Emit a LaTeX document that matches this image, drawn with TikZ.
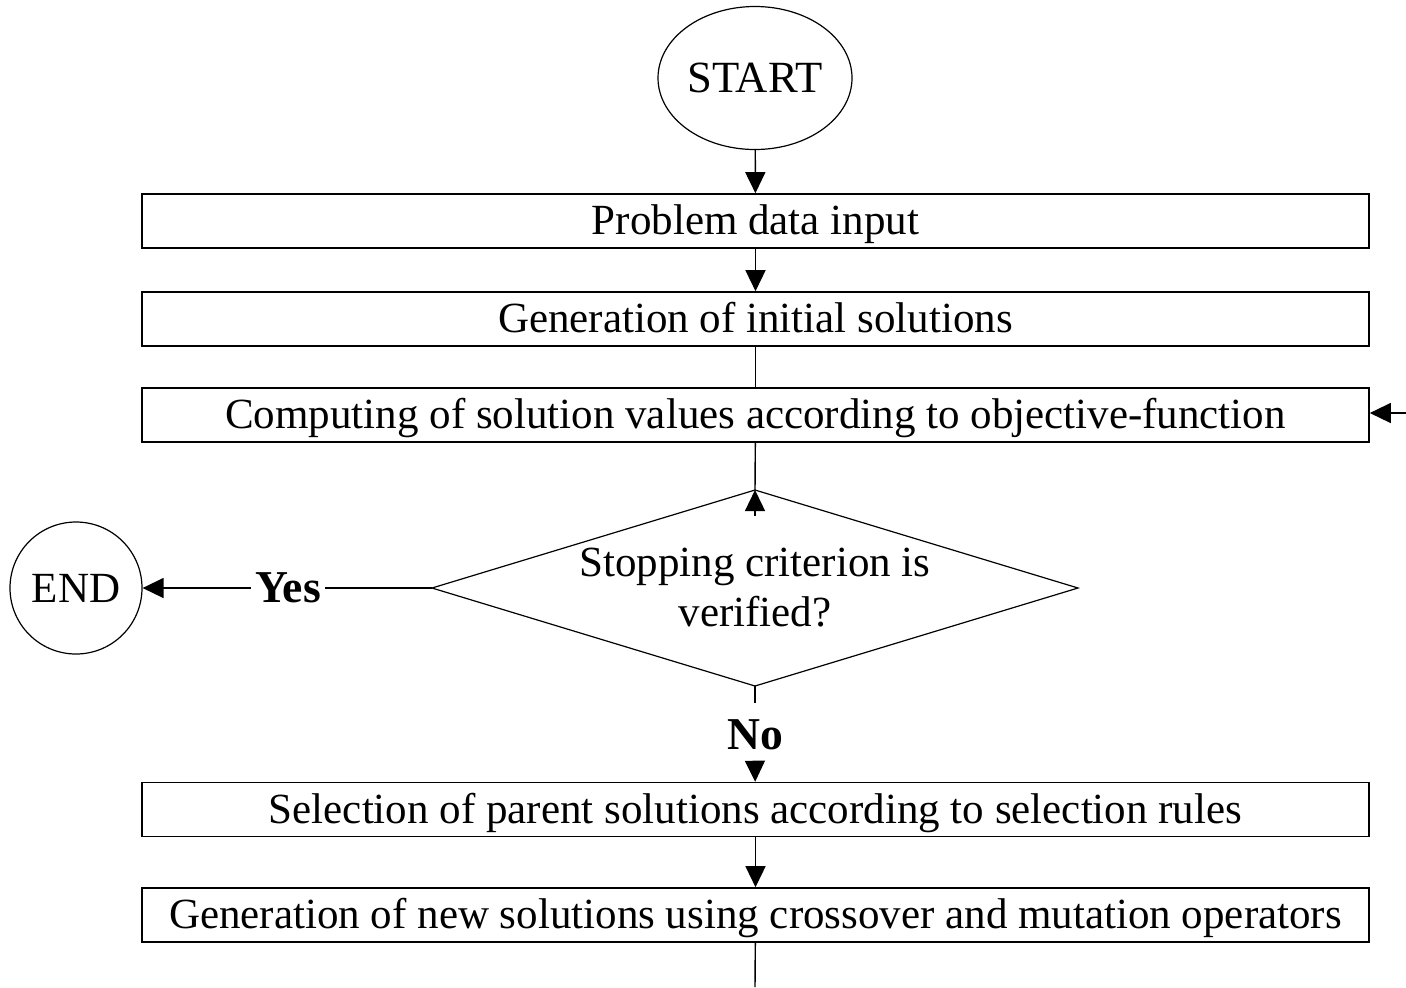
\documentclass[tikz,border=0pt]{standalone}
\usepackage{fontspec}
\setmainfont{Liberation Serif}
\usetikzlibrary{shapes.geometric,arrows.meta}
\begin{document}
\begin{tikzpicture}[x=0.5pt,y=-0.5pt,
  every node/.style={font=\fontsize{21.5pt}{25pt}\selectfont},
  procbox/.style={draw=black,line width=0.8pt,minimum width=613.5pt,minimum height=27pt,inner sep=0pt,text height=16.5pt,text depth=3pt},
  lbl/.style={font=\fontsize{22.8pt}{25pt}\selectfont\bfseries,inner sep=2pt},
  ln/.style={draw=black,line width=0.7pt},
  arr/.style={ln,-{Triangle[length=10.5pt,width=10pt]}}]
\useasboundingbox (0,0) rectangle (1406,987);
\node[draw,ellipse,line width=0.6pt,inner sep=0pt,minimum width=97pt,minimum height=71.5pt,font=\fontsize{22.3pt}{25pt}\selectfont] (start) at (755,78) {START};
\node[procbox] (b1) at (755.5,221) {Problem data input};
\node[procbox] (b2) at (755.5,319) {Generation of initial solutions};
\node[procbox] (b3) at (755.5,415) {Computing of solution values according to objective-function};
\coordinate (dt) at (755,490);
\coordinate (dl) at (432,588);
\coordinate (dr) at (1078,588);
\coordinate (db) at (755,686);
\draw[line width=0.6pt] (dt) -- (dr) -- (db) -- (dl) -- cycle;
\node[align=center,inner sep=0pt] (dtext) at (755,588) {Stopping criterion is\\verified?};
\node[draw,circle,line width=0.6pt,inner sep=0pt,minimum size=66pt] (end) at (76,588) {END};
\node[lbl] (yes) at (288,588) {Yes};
\node[lbl,inner ysep=8pt] (no) at (755,735) {No};
\node[procbox] (b4) at (755.5,809.5) {Selection of parent solutions according to selection rules};
\node[procbox] (b5) at (755.5,915) {Generation of new solutions using crossover and mutation operators};
\coordinate (rin) at (1406,413);
\coordinate (dbelow) at (755,516);
\coordinate (bot) at (755,987);
\draw[arr] (start) -- (b1);
\draw[arr] (b1) -- (b2);
\draw[ln] (b2) -- (b3);
\draw[ln] (b3) -- (dt);
\draw[arr] (dbelow) -- (dt);
\draw[ln] (dl) -- (yes);
\draw[arr] (yes) -- (end);
\draw[ln] (db) -- (no.north);
\draw[arr] (no.south) -- (b4);
\draw[arr] (b4) -- (b5);
\draw[ln] (b5) -- (bot);
\draw[arr] (rin) -- (b3.east |- rin);
\end{tikzpicture}
\end{document}
